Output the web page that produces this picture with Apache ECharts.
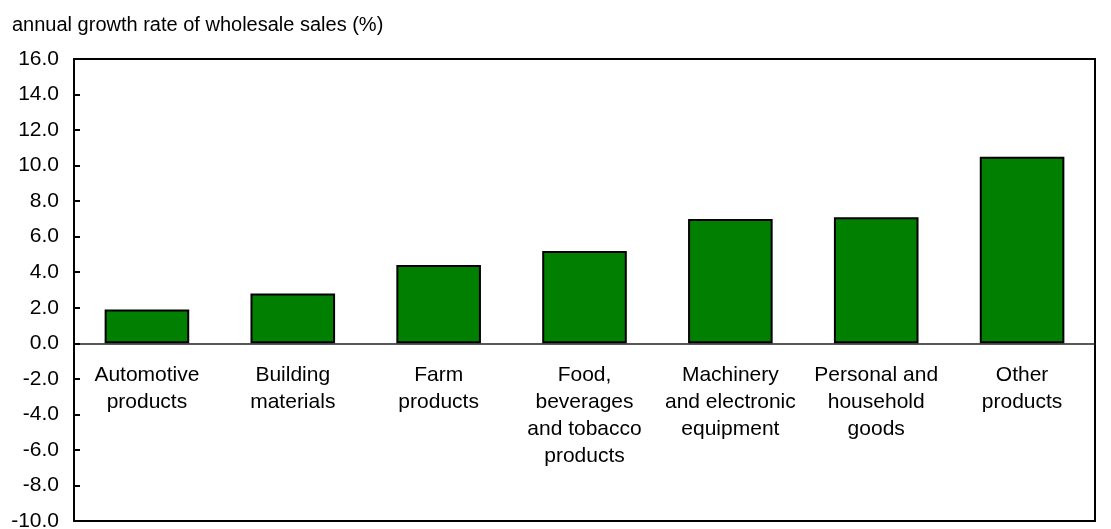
<!DOCTYPE html>
<html>
<head>
<meta charset="utf-8">
<script src="https://cdn.jsdelivr.net/npm/echarts@6/dist/echarts.min.js"></script>
<style>
  html, body { margin: 0; padding: 0; background: #fff; }
  #chart { width: 1111px; height: 529px; }
</style>
</head>
<body>
<div id="chart"></div>
<script>
// Wholesale sales growth by trade subsector
const categories = [
  'Automotive\nproducts',
  'Building\nmaterials',
  'Farm\nproducts',
  'Food,\nbeverages\nand tobacco\nproducts',
  'Machinery\nand electronic\nequipment',
  'Personal and\nhousehold\ngoods',
  'Other\nproducts'
];
const growthValues = [1.9, 2.8, 4.4, 5.2, 7.0, 7.1, 10.5];
const axisTitle = 'annual growth rate of wholesale sales (%)';
const yMin = -10, yMax = 16, yStep = 2;

const W = 1111, H = 529;
const gridTop = 59, gridBottom = 8, gridLeft = 74, gridRight = 16;
// distance of the zero line above the plot's bottom edge, so the category axis sits on it
const plotHeight = H - gridTop - gridBottom;
const zeroLift = plotHeight * (0 - yMin) / (yMax - yMin);

const font = 'Liberation Sans, Arial, Helvetica, sans-serif';
const chart = echarts.init(document.getElementById('chart'), null, { renderer: 'canvas' });

chart.setOption({
  animation: false,
  title: {
    text: axisTitle,
    left: 7,
    top: 10,
    textStyle: { fontFamily: font, fontSize: 20, fontWeight: 'normal', color: '#000' }
  },
  grid: {
    left: gridLeft, right: gridRight, top: gridTop, bottom: gridBottom,
    outerBoundsMode: 'none',
    containLabel: false,
    show: true, borderColor: '#000', borderWidth: 2, backgroundColor: 'transparent'
  },
  xAxis: {
    type: 'category',
    data: categories,
    offset: -zeroLift,
    axisLine: { onZero: false, lineStyle: { color: '#222', width: 1.5 } },
    axisTick: { show: false },
    axisLabel: {
      interval: 0, margin: 18, color: '#000',
      fontFamily: font, fontSize: 21, lineHeight: 27, align: 'center'
    }
  },
  yAxis: {
    type: 'value',
    min: yMin, max: yMax, interval: yStep,
    splitLine: { show: false },
    axisLine: { show: true, lineStyle: { color: '#000', width: 2 } },
    axisTick: { show: true, inside: true, length: 6, lineStyle: { color: '#000', width: 2 } },
    axisLabel: {
      margin: 15, color: '#000', fontFamily: font, fontSize: 21,
      formatter: v => v.toFixed(1)
    }
  },
  series: [{
    type: 'bar',
    data: growthValues,
    barWidth: '58%',
    itemStyle: { color: '#007f00', borderColor: '#000', borderWidth: 2 }
  }]
});
</script>
</body>
</html>
